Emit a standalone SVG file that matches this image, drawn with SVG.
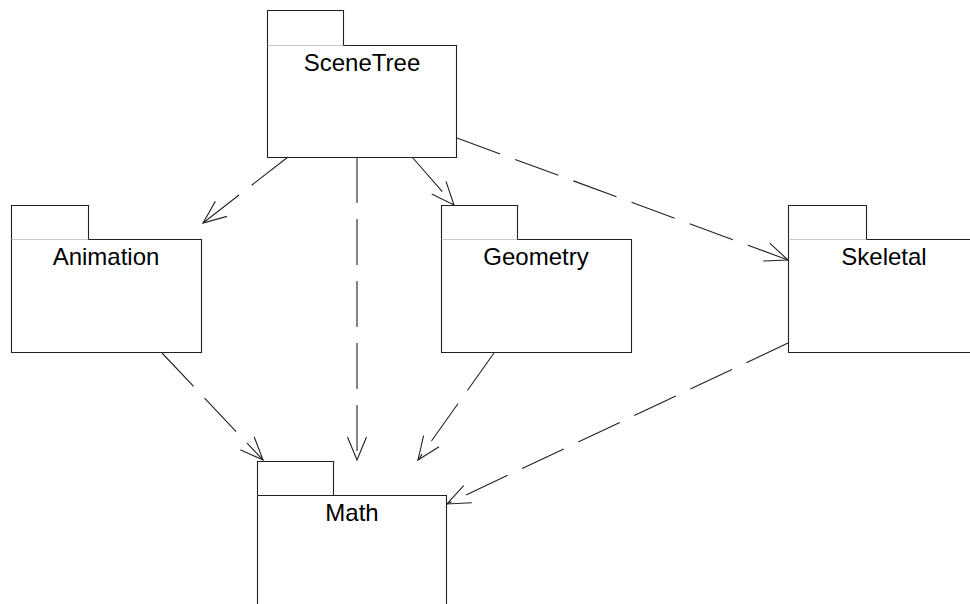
<svg xmlns="http://www.w3.org/2000/svg" width="970" height="604" viewBox="0 0 970 604">
  <style>
    .edge { fill: none; stroke: #222; stroke-width: 1.1; }
    .fold { fill: none; stroke: #c8c8c8; stroke-width: 1; }
    .label { font-family: "Liberation Sans", Arial, sans-serif; font-size: 24px; fill: #000; text-anchor: middle; }
    .dep { fill: none; stroke: #222; stroke-width: 1.1; stroke-dasharray: 46 16; }
  </style>
  <defs>
    <marker id="open-arrow" viewBox="-26 -12 28 24" refX="0" refY="0" markerWidth="28" markerHeight="24" markerUnits="userSpaceOnUse" orient="auto">
      <path d="M-23,-9.5 L0,0 L-23,9.5" fill="none" stroke="#222" stroke-width="1.1"/>
    </marker>
  </defs>
  <rect width="970" height="604" fill="#fff"/>

  <!-- packages: tab + body, the tab/body seam drawn light -->
  <g id="SceneTree">
    <path class="edge" d="M267.5,45.5 V10.5 H343.5 V45.5"/>
    <path class="edge" d="M343.5,45.5 H456.5 V157.5 H267.5 V45.5"/>
    <path class="fold" d="M268,45.5 H343"/>
    <text class="label" x="362" y="71">SceneTree</text>
  </g>

  <g id="Animation">
    <path class="edge" d="M11.5,239.5 V205.5 H88.5 V239.5"/>
    <path class="edge" d="M88.5,239.5 H201.5 V352.5 H11.5 V239.5"/>
    <path class="fold" d="M12,239.5 H88"/>
    <text class="label" x="106" y="265">Animation</text>
  </g>

  <g id="Geometry">
    <path class="edge" d="M441.5,239.5 V205.5 H517.5 V239.5"/>
    <path class="edge" d="M517.5,239.5 H631.5 V352.5 H441.5 V239.5"/>
    <path class="fold" d="M442,239.5 H517"/>
    <text class="label" x="536" y="265">Geometry</text>
  </g>

  <g id="Skeletal">
    <path class="edge" d="M788.5,239.5 V205.5 H866.5 V239.5"/>
    <path class="edge" d="M866.5,239.5 H980 M980,352.5 H788.5 V239.5"/>
    <path class="fold" d="M789,239.5 H866"/>
    <text class="label" x="884" y="265">Skeletal</text>
  </g>

  <g id="Math">
    <path class="edge" d="M257.5,495.5 V461.5 H333.5 V495.5"/>
    <path class="edge" d="M257.5,495.5 H446.5 V610 M257.5,495.5 V610"/>
    <text class="label" x="352" y="521">Math</text>
  </g>

  <!-- dependencies -->
  <g id="connectors">
    <path class="dep" d="M288,157 L203,223" marker-end="url(#open-arrow)"/>
    <path class="dep" d="M357,157 L357,460" marker-end="url(#open-arrow)"/>
    <path class="dep" d="M412,157 L454,205" marker-end="url(#open-arrow)"/>
    <path class="dep" d="M457,138 L788,260" marker-end="url(#open-arrow)"/>
    <path class="dep" d="M162,353 L263,460" marker-end="url(#open-arrow)"/>
    <path class="dep" d="M494,353 L418,460" marker-end="url(#open-arrow)"/>
    <path class="dep" d="M788,343 L447,504" marker-end="url(#open-arrow)"/>
  </g>
</svg>
